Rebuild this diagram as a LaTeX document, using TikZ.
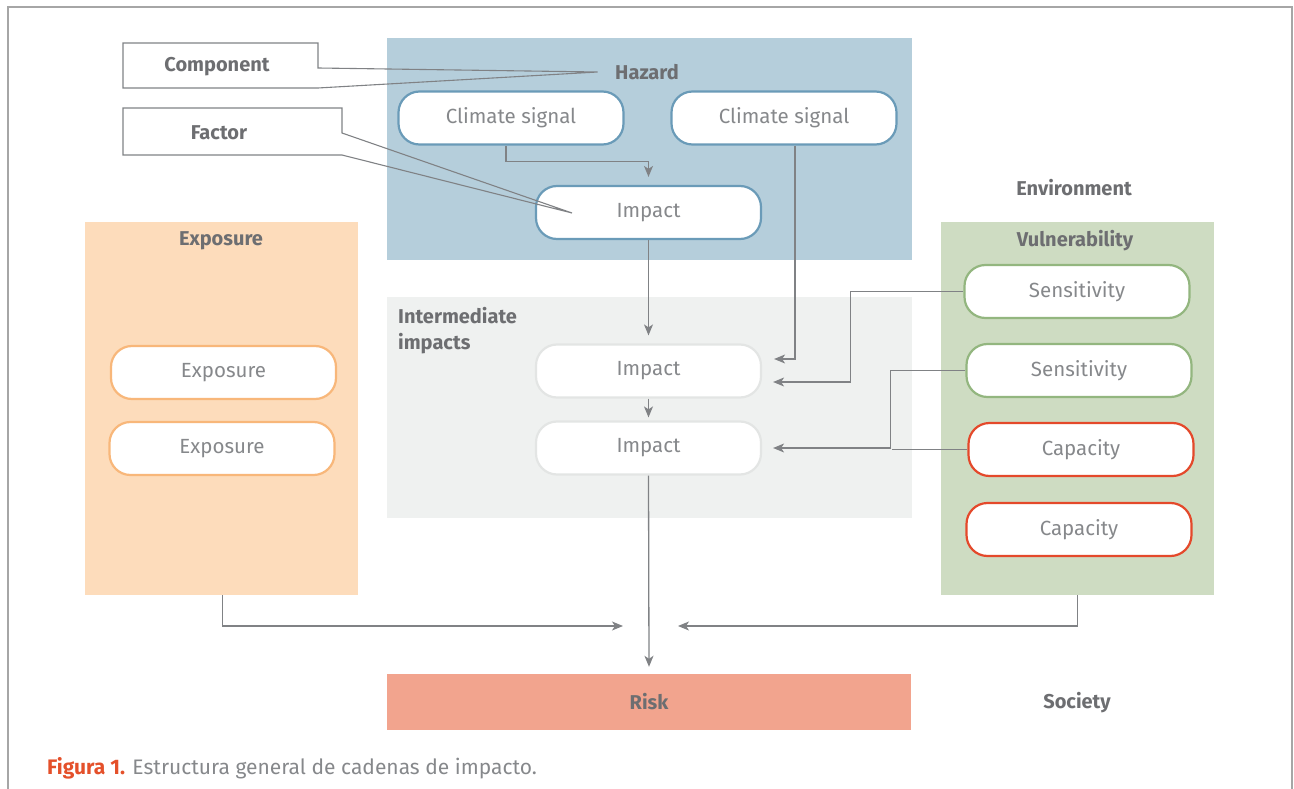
\documentclass[tikz,border=0pt]{standalone}
\usepackage{fontspec}
\setmainfont{Fira Sans}
\usetikzlibrary{arrows.meta}

\definecolor{hazbg}{HTML}{B5CEDB}
\definecolor{hazline}{HTML}{6A9BB8}
\definecolor{expbg}{HTML}{FDDCBB}
\definecolor{expline}{HTML}{F8B77A}
\definecolor{midbg}{HTML}{EFF1F0}
\definecolor{midline}{HTML}{E3E5E4}
\definecolor{vulbg}{HTML}{CEDCC2}
\definecolor{senline}{HTML}{93B67F}
\definecolor{capline}{HTML}{E4492B}
\definecolor{riskbg}{HTML}{F2A48E}
\definecolor{txtdark}{HTML}{6D6E71}
\definecolor{txtlight}{HTML}{86888B}
\definecolor{arrc}{HTML}{808285}
\definecolor{figred}{HTML}{E4502A}

\begin{document}
\begin{tikzpicture}[x=1pt,y=-1pt,
		region/.style={fill=#1, draw=none, inner sep=0pt},
		pill/.style={draw=#1, fill=white, line width=2.2pt, rounded corners=21pt,
			minimum width=225pt, minimum height=53pt, inner sep=0pt,
			text=txtlight, font=\fontsize{20.5}{24}\selectfont},
		head/.style={text=txtdark, font=\fontsize{20}{26}\selectfont\bfseries},
		conn/.style={draw=arrc, line width=1.3pt},
		arr/.style={conn, -{Stealth[length=11pt,width=9pt,inset=3pt]}},
		callout/.style={draw=arrc, line width=1.1pt, line join=miter}]
		\useasboundingbox (0,0) rectangle (1294,789);
		\draw[draw=gray!70, line width=1.3pt] (8,789) |- (1292,7) -- (1292,789);

		% coloured areas
		\node[region=hazbg, minimum width=525pt, minimum height=222pt] (hazard) at (649.5,149) {};
		\node[region=midbg, minimum width=525pt, minimum height=221pt] (inter) at (649.5,407.5) {};
		\node[region=expbg, minimum width=273pt, minimum height=373pt] (expo) at (221.5,408.5) {};
		\node[region=vulbg, minimum width=273pt, minimum height=373pt] (vuln) at (1077.5,408.5) {};
		\node[region=riskbg, minimum width=524pt, minimum height=56pt, head] (risk) at (649,702) {Risk};

		% headings
		\node[head] (hzlabel) at (647,72) {Hazard};
		\node[head] (envlabel) at (1074,188) {Environment};
		\node[head] (vullabel) at (1075,241) {Vulnerability};
		\node[head] (explabel) at (221,241) {Exposure};
		\node[head, align=left, anchor=north west, inner sep=0pt] (intlabel) at (398,307) {Intermediate\\impacts};
		\node[head] (soclabel) at (1077,703) {Society};

		% boxes
		\node[pill=hazline] (cs1) at (511,118) {Climate signal};
		\node[pill=hazline] (cs2) at (784,118) {Climate signal};
		\node[pill=hazline] (himp) at (648.5,212.5) {Impact};
		\node[pill=expline] (expa) at (223.5,372.5) {Exposure};
		\node[pill=expline] (expb) at (222,448.5) {Exposure};
		\node[pill=midline] (imp1) at (648.5,371) {Impact};
		\node[pill=midline] (imp2) at (648.5,448) {Impact};
		\node[pill=senline] (sen1) at (1077,291.5) {Sensitivity};
		\node[pill=senline] (sen2) at (1079,370.5) {Sensitivity};
		\node[pill=capline] (cap1) at (1081,449.5) {Capacity};
		\node[pill=capline] (cap2) at (1079,529.5) {Capacity};

		% callouts
		\node[head] (comp) at (217,67) {Component};
		\node[head] (fact) at (219,133) {Factor};
		\coordinate (facttip) at (572,213);
		\draw[callout] (123,43) -| (318,68) -- ([xshift=-14pt]hzlabel.west) -- (318,88) -| cycle;
		\draw[callout] (123,108) -| (342,133) -- (facttip) -- (342,155) -| cycle;

		% connectors
		\coordinate (knee) at (891.5,449.5);
		\coordinate (inL) at (623,626);
		\coordinate (inR) at (678,626);
		\draw[arr] ([xshift=-5pt]cs1.south) -- ++(0,16) -| ([yshift=8pt]himp.north);
		\draw[arr] (himp.south) -- ([yshift=8pt]imp1.north);
		\draw[arr] ([xshift=11pt]cs2.south) |- ([xshift=12pt,yshift=12pt]imp1.east);
		\draw[arr] (sen1.west) -- ++(-113,0) |- ([xshift=11pt,yshift=-11pt]imp1.east);
		\draw[arr] (sen2.west) -- ++(-75,0) |- ([xshift=11pt]imp2.east);
		\draw[conn] (cap1.west) -- (knee);
		\draw[arr] (imp1.south) -- ([yshift=3pt]imp2.north);
		\draw[arr] (imp2.south) -- ([yshift=7pt]risk.north);
		\draw[arr] ([xshift=1pt]expo.south) |- (inL);
		\draw[arr] (vuln.south) |- (inR);

		% caption
		\node[anchor=west, inner sep=0pt, text=txtlight, font=\fontsize{21}{24}\selectfont] (caption) at (47,768)
			{\textcolor{figred}{\bfseries Figura 1.} Estructura general de cadenas de impacto.};
	\end{tikzpicture}
\end{document}
